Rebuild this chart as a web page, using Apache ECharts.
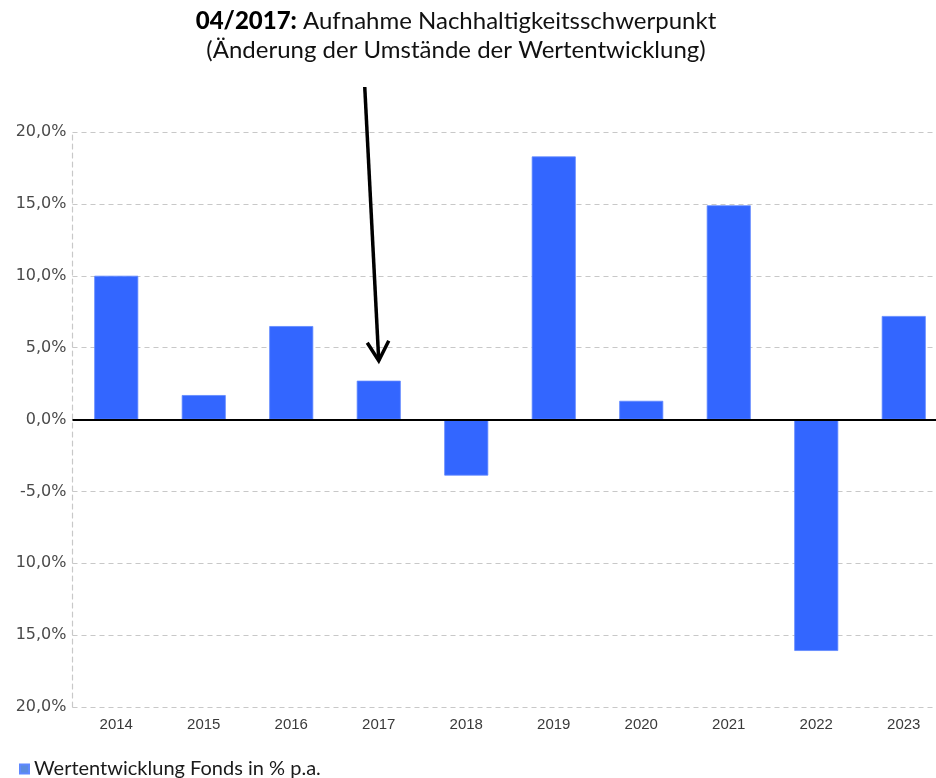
<!DOCTYPE html>
<html><head><meta charset="utf-8">
<script src="https://cdn.jsdelivr.net/npm/echarts@6/dist/echarts.min.js"></script>
<style>html,body{margin:0;padding:0;background:#fff}#c{width:936px;height:778px}</style>
</head><body><div id="c"></div>
<script>
const categories = ['2014','2015','2016','2017','2018','2019','2020','2021','2022','2023'];
const values = [10.0, 1.7, 6.5, 2.7, -3.9, 18.3, 1.3, 14.9, -16.1, 7.2];
const yTickLabels = ['20,0%','15,0%','10,0%','5,0%','0,0%','-5,0%','10,0%','15,0%','20,0%'];
const seriesName = 'Wertentwicklung Fonds in % p.a.';
const annotationYear = '2017';
const annotationBold = '04/2017:';
const annotationLine1 = ' Aufnahme Nachhaltigkeitsschwerpunkt';
const annotationLine2 = '(Änderung der Umstände der Wertentwicklung)';

const chart = echarts.init(document.getElementById('c'), null, {renderer: 'canvas'});
const gridCol = '#c8c8c8';
chart.setOption({
  animation: false,
  backgroundColor: '#ffffff',
  grid: {left: 72.5, width: 875, top: 132, bottom: 71, containLabel: false, outerBoundsMode: 'none'},
  legend: {
    left: 14, top: 754, icon: 'rect', itemWidth: 9, itemHeight: 9, itemGap: 10,
    textStyle: {fontFamily: 'Lato', fontSize: 20, color: '#1a1a1a'},
    data: [{name: seriesName, itemStyle: {color: '#5b8be0'}}]
  },
  xAxis: {
    type: 'category', data: categories,
    axisLine: {show: false}, axisTick: {show: false},
    axisLabel: {fontFamily: 'Liberation Sans', fontSize: 15, color: '#3a3a3a', margin: 10}
  },
  yAxis: {
    type: 'value', min: -20, max: 20, interval: 5,
    axisLine: {show: true, lineStyle: {color: gridCol, type: [5, 4], width: 1.2}},
    axisTick: {show: false},
    axisLabel: {
      fontFamily: 'DejaVu Sans', fontSize: 16, color: '#4a4a4a', margin: 6,
      formatter: v => yTickLabels[Math.round((20 - v) / 5)]
    },
    splitLine: {show: true, lineStyle: {color: gridCol, type: [5, 4], width: 1.2}}
  },
  series: [{
    name: seriesName, type: 'bar', data: values, barWidth: 44,
    itemStyle: {color: '#3366ff', borderColor: '#5f88ff', borderWidth: 0.8},
    markLine: {
      silent: true, symbol: ['none', 'none'], label: {show: false},
      lineStyle: {color: '#000', width: 2, type: 'solid'},
      data: [{yAxis: 0}]
    }
  }],
  graphic: [{
    id: 'title', type: 'text', x: 456, y: 7,
    style: {
      text: '{b|' + annotationBold + '}' + annotationLine1 + '\n' + annotationLine2,
      align: 'center', verticalAlign: 'top',
      fontFamily: 'Lato', fontSize: 24, lineHeight: 29, fill: '#111',
      rich: {b: {fontFamily: 'Lato', fontWeight: 900, fontSize: 24, lineHeight: 29, fill: '#000'}}
    }
  }]
});

const idx = categories.indexOf(annotationYear);
const barTop = chart.convertToPixel({xAxisIndex: 0, yAxisIndex: 0}, [idx, values[idx]]);
const tip = [barTop[0], barTop[1] - 20];
const tail = [tip[0] - 14, 87];
chart.setOption({
  graphic: [
    {id: 'arrowLine', type: 'polyline', shape: {points: [tail, tip]},
     style: {stroke: '#000', lineWidth: 3.5, fill: null}, z: 100},
    {id: 'arrowHead', type: 'polyline',
     shape: {points: [[tip[0] - 11.5, tip[1] - 18], tip, [tip[0] + 10, tip[1] - 20]]},
     style: {stroke: '#000', lineWidth: 3.5, fill: null, lineJoin: 'miter'}, z: 100}
  ]
});
</script></body></html>
